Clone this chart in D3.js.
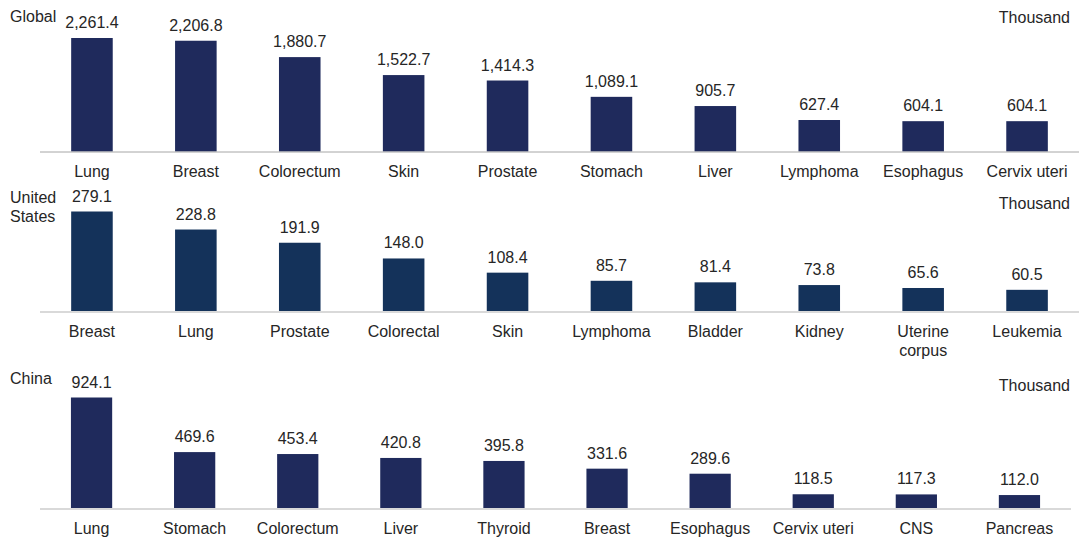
<!DOCTYPE html>
<html>
<head>
<meta charset="utf-8">
<title>Cancer cases</title>
<script src="https://cdn.jsdelivr.net/npm/d3@7"></script>
<style>
  body { margin: 0; background: #fff; }
  text { font-family: "Liberation Sans", Arial, sans-serif; fill: #262626; }
</style>
</head>
<body>
<div id="chart"></div>
<script>
// new cases, thousand
var globalCats = ["Lung", "Breast", "Colorectum", "Skin", "Prostate", "Stomach", "Liver", "Lymphoma", "Esophagus", "Cervix uteri"];
var globalVals = [2261.4, 2206.8, 1880.7, 1522.7, 1414.3, 1089.1, 905.7, 627.4, 604.1, 604.1];

var usCats = ["Breast", "Lung", "Prostate", "Colorectal", "Skin", "Lymphoma", "Bladder", "Kidney", "Uterine|corpus", "Leukemia"];
var usVals = [279.1, 228.8, 191.9, 148.0, 108.4, 85.7, 81.4, 73.8, 65.6, 60.5];

var chinaCats = ["Lung", "Stomach", "Colorectum", "Liver", "Thyroid", "Breast", "Esophagus", "Cervix uteri", "CNS", "Pancreas"];
var chinaVals = [924.1, 469.6, 453.4, 420.8, 395.8, 331.6, 289.6, 118.5, 117.3, 112.0];

var W = 1079, H = 541;
var svg = d3.select("#chart").append("svg").attr("width", W).attr("height", H);

var fmt = d3.format(",.1f");

function panel(o) {
  var g = svg.append("g");
  var x = d3.scaleBand().domain(o.cats).range([40, o.right]).paddingInner(0.6).paddingOuter(0.3);
  var y = d3.scaleLinear().domain([0, o.vals[0]]).range([o.base, o.top]);

  g.selectAll("rect").data(o.vals).enter().append("rect")
    .attr("x", function (d, i) { return x(o.cats[i]); })
    .attr("y", function (d) { return y(d); })
    .attr("width", x.bandwidth())
    .attr("height", function (d) { return o.base - y(d); })
    .attr("fill", o.color);

  g.append("line")
    .attr("x1", 40).attr("x2", o.right)
    .attr("y1", o.base + 0.5).attr("y2", o.base + 0.5)
    .attr("stroke", o.axis).attr("stroke-width", o.axisW);

  // value labels
  g.selectAll(".val").data(o.vals).enter().append("text")
    .attr("x", function (d, i) { return x(o.cats[i]) + x.bandwidth() / 2; })
    .attr("y", function (d) { return y(d) - 10; })
    .attr("text-anchor", "middle")
    .style("font-size", "16px")
    .text(function (d) { return fmt(d); });

  // category labels, "|" splits lines
  var lab = g.selectAll(".cat").data(o.cats).enter().append("text")
    .attr("x", function (d) { return x(d) + x.bandwidth() / 2; })
    .attr("y", o.base + 25)
    .attr("text-anchor", "middle")
    .style("font-size", "16px");
  lab.each(function (d) {
    var t = d3.select(this);
    d.split("|").forEach(function (s, i) {
      t.append("tspan").attr("x", t.attr("x")).attr("dy", i ? 19 : 0).text(s);
    });
  });

  // panel title
  var tt = g.append("text").attr("x", 10).attr("y", o.titleY).style("font-size", "16px");
  o.title.forEach(function (s, i) {
    tt.append("tspan").attr("x", 10).attr("dy", i ? 19 : 0).text(s);
  });

  g.append("text")
    .attr("x", 1070).attr("y", o.unitY)
    .attr("text-anchor", "end")
    .style("font-size", "16px")
    .text("Thousand");
}

panel({ cats: globalCats, vals: globalVals, base: 151.5, top: 38, right: 1079, color: "#1f2a5c",
        axis: "#a6a6a6", axisW: 1, title: ["Global"], titleY: 22, unitY: 23 });
panel({ cats: usCats, vals: usVals, base: 311.5, top: 211.5, right: 1079, color: "#14325a",
        axis: "#d9d9d9", axisW: 2, title: ["United", "States"], titleY: 203, unitY: 209 });
panel({ cats: chinaCats, vals: chinaVals, base: 508.5, top: 397.5, right: 1071, color: "#1f2a5c",
        axis: "#d9d9d9", axisW: 2, title: ["China"], titleY: 384, unitY: 391 });
</script>
</body>
</html>
